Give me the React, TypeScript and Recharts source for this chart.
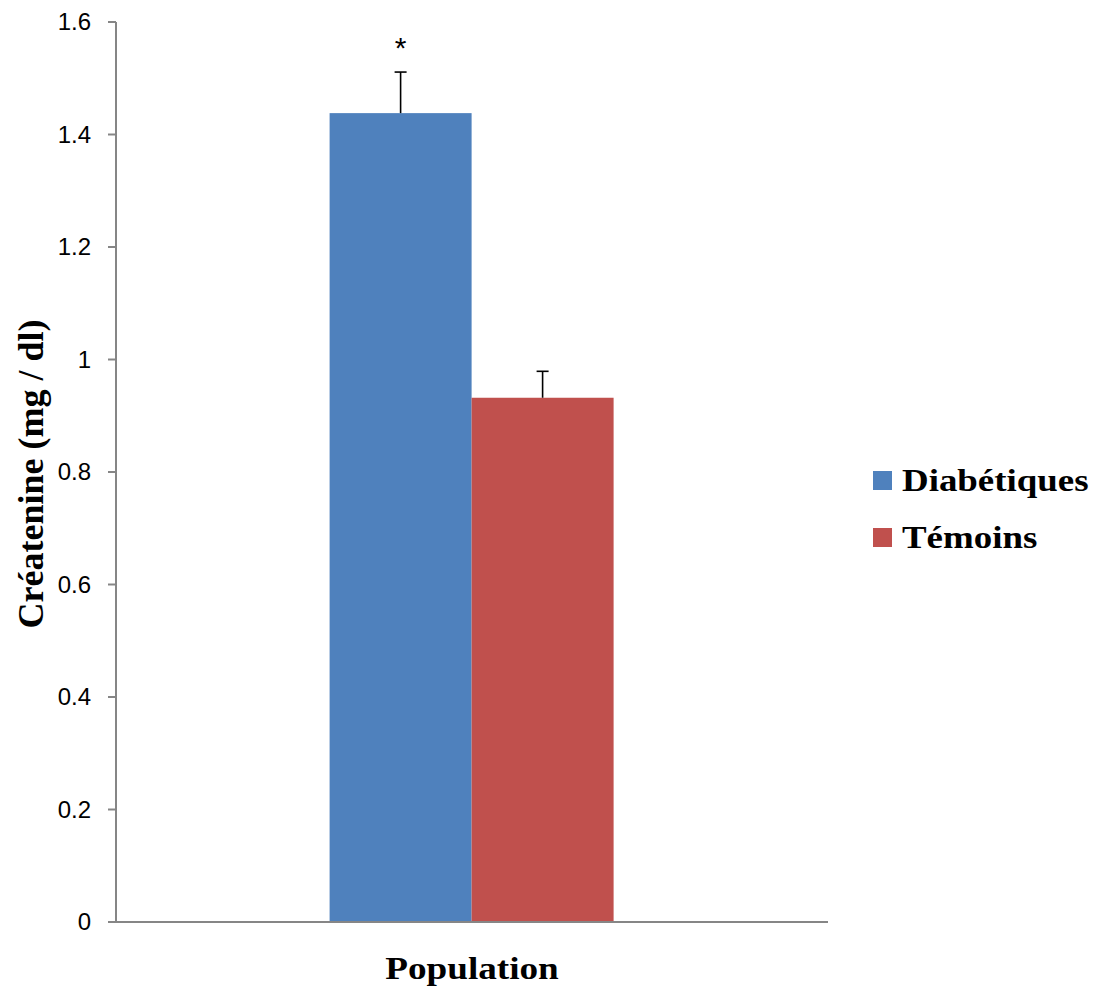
import { BarChart, Bar, XAxis, YAxis, Legend } from 'recharts'

const categories = ['Population']
const diabetiques = [1.438]
const temoins = [0.932]
const diabetiquesErr = [0.073]
const temoinsErr = [0.047]
const yTicks = [0, 0.2, 0.4, 0.6, 0.8, 1, 1.2, 1.4, 1.6]

const data = categories.map((name, i) => ({
  name,
  diabetiques: diabetiques[i],
  temoins: temoins[i],
  diabetiquesErr: diabetiquesErr[i],
  temoinsErr: temoinsErr[i],
}))

const serif = '"Liberation Serif", "Times New Roman", serif'
const sans = '"Liberation Sans", Arial, sans-serif'

function barWithError(errKey: string, valueKey: string, star: boolean) {
  return (props: any) => {
    const { x, y, width, height, payload, fill } = props
    const value = payload[valueKey]
    const errPx = (payload[errKey] * height) / value
    const cx = x + width / 2
    const top = y - errPx
    return (
      <g>
        <rect x={x} y={y} width={width} height={height} fill={fill} />
        <line x1={cx} y1={y} x2={cx} y2={top} stroke="#000" strokeWidth={1.6} />
        <line x1={cx - 6} y1={top} x2={cx + 6} y2={top} stroke="#000" strokeWidth={1.6} />
        {star && (
          <text x={cx} y={top - 14} textAnchor="middle" fontFamily={sans} fontSize={30} fill="#000">
            *
          </text>
        )}
      </g>
    )
  }
}

function renderLegend(props: any) {
  const { payload } = props
  return (
    <div style={{ paddingLeft: 45, paddingTop: 26 }}>
      {payload.map((entry: any) => (
        <div
          key={entry.value}
          style={{ display: 'flex', alignItems: 'center', height: 57, fontFamily: serif, fontWeight: 'bold', fontSize: 31 }}
        >
          <span style={{ display: 'inline-block', width: 19, height: 19, background: entry.color, marginRight: 10 }} />
          <span style={{ display: 'inline-block', transform: 'scaleX(1.19)', transformOrigin: 'left center' }}>
            {entry.value}
          </span>
        </div>
      ))}
    </div>
  )
}

function CategoryTick(props: any) {
  const { x, y, payload } = props
  const ty = y + 49
  return (
    <text
      x={0}
      y={0}
      transform={`translate(${x} ${ty}) scale(1.2 1.05)`}
      textAnchor="middle"
      fontFamily={serif}
      fontWeight="bold"
      fontSize={31}
      fill="#000"
    >
      {payload.value}
    </text>
  )
}

function ValueTick(props: any) {
  const { x, y, payload } = props
  return (
    <text x={x} y={y} dy="0.35em" textAnchor="end" fontFamily={sans} fontSize={24} fill="#000">
      {payload.value}
    </text>
  )
}

export default function App() {
  return (
    <div style={{ position: 'absolute', left: 0, top: 0, background: '#fff' }}>
      <BarChart
        width={1094}
        height={992}
        data={data}
        margin={{ top: 22, right: 26, bottom: 0, left: 0 }}
        barCategoryGap="30%"
        barGap={0}
      >
        <XAxis
          dataKey="name"
          height={70}
          tickLine={false}
          axisLine={{ stroke: '#868686', strokeWidth: 2 }}
          tick={<CategoryTick />}
        />
        <YAxis
          width={116}
          domain={[0, 1.6]}
          ticks={yTicks}
          tickSize={8}
          tickMargin={17}
          axisLine={{ stroke: '#868686', strokeWidth: 2 }}
          tickLine={{ stroke: '#868686', strokeWidth: 2 }}
          tick={<ValueTick />}
          label={() => (
            <text
              x={0}
              y={0}
              transform="translate(31 474) rotate(-90)"
              textAnchor="middle"
              dominantBaseline="central"
              fontFamily={serif}
              fontWeight="bold"
              fontSize={36}
              fill="#000"
            >
              Créatenine (mg / dl)
            </text>
          )}
        />
        <Legend
          layout="vertical"
          align="right"
          verticalAlign="middle"
          wrapperStyle={{ width: 240 }}
          content={renderLegend}
        />
        <Bar
          dataKey="diabetiques"
          name="Diabétiques"
          fill="#4F81BD"
          isAnimationActive={false}
          shape={barWithError('diabetiquesErr', 'diabetiques', true)}
        />
        <Bar
          dataKey="temoins"
          name="Témoins"
          fill="#C0504D"
          isAnimationActive={false}
          shape={barWithError('temoinsErr', 'temoins', false)}
        />
      </BarChart>
    </div>
  )
}
